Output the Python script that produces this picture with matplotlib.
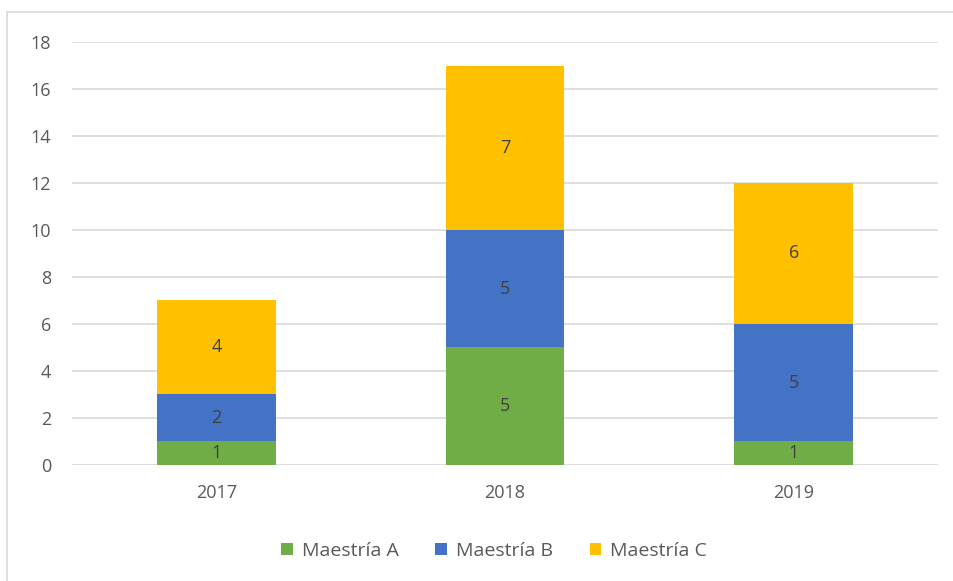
import numpy as np
import matplotlib.pyplot as plt
from matplotlib.lines import Line2D

# data
years = ['2017', '2018', '2019']
maestria_a = [1, 5, 1]
maestria_b = [2, 5, 5]
maestria_c = [4, 7, 6]
series_names = ['Maestría A', 'Maestría B', 'Maestría C']
colors = ['#70AD47', '#4472C4', '#FFC000']
text_color = '#595959'

plt.rcParams['font.family'] = ['Open Sans', 'DejaVu Sans']

fig = plt.figure(figsize=(9.54, 5.81), dpi=100)
ax = fig.add_axes([0.0755, 0.1997, 0.9077, 0.728])

x = np.arange(len(years))
width = 0.41
bottom = np.zeros(len(years))
handles = []
for vals, name, col in zip([maestria_a, maestria_b, maestria_c], series_names, colors):
    bars = ax.bar(x, vals, width, bottom=bottom, color=col, label=name, zorder=3)
    for xi, b, v in zip(x, bottom, vals):
        ax.text(xi, b + v / 2, str(v), ha='center', va='center',
                fontsize=13, color='#404040', zorder=4)
    bottom = bottom + np.array(vals)
    handles.append(bars)

ax.set_xlim(-0.5, 2.5)
ax.set_ylim(0, 18)
ax.set_yticks(range(0, 19, 2))
ax.set_xticks(x)
ax.set_xticklabels(years)
ax.grid(axis='y', color='#D9D9D9', linewidth=1.2, zorder=0)
for s in ax.spines.values():
    s.set_visible(False)
ax.tick_params(axis='both', length=0, labelsize=13, colors=text_color)
ax.tick_params(axis='y', pad=15)
ax.tick_params(axis='x', pad=14)

fig.legend(handles=handles, labels=series_names, loc='center',
           bbox_to_anchor=(0.518, 0.052), ncol=3, frameon=False,
           fontsize=14, labelcolor=text_color, handlelength=0.6,
           handleheight=0.6, handletextpad=0.45, columnspacing=1.9)

# chart frame (top and left edges visible)
fig.add_artist(Line2D([0.0075, 1.0], [1 - 12 / 581, 1 - 12 / 581],
                      transform=fig.transFigure, color='#D9D9D9', linewidth=1.2))
fig.add_artist(Line2D([0.0075, 0.0075], [0, 1 - 12 / 581],
                      transform=fig.transFigure, color='#D9D9D9', linewidth=1.2))

fig.savefig('out.png', dpi=100)
